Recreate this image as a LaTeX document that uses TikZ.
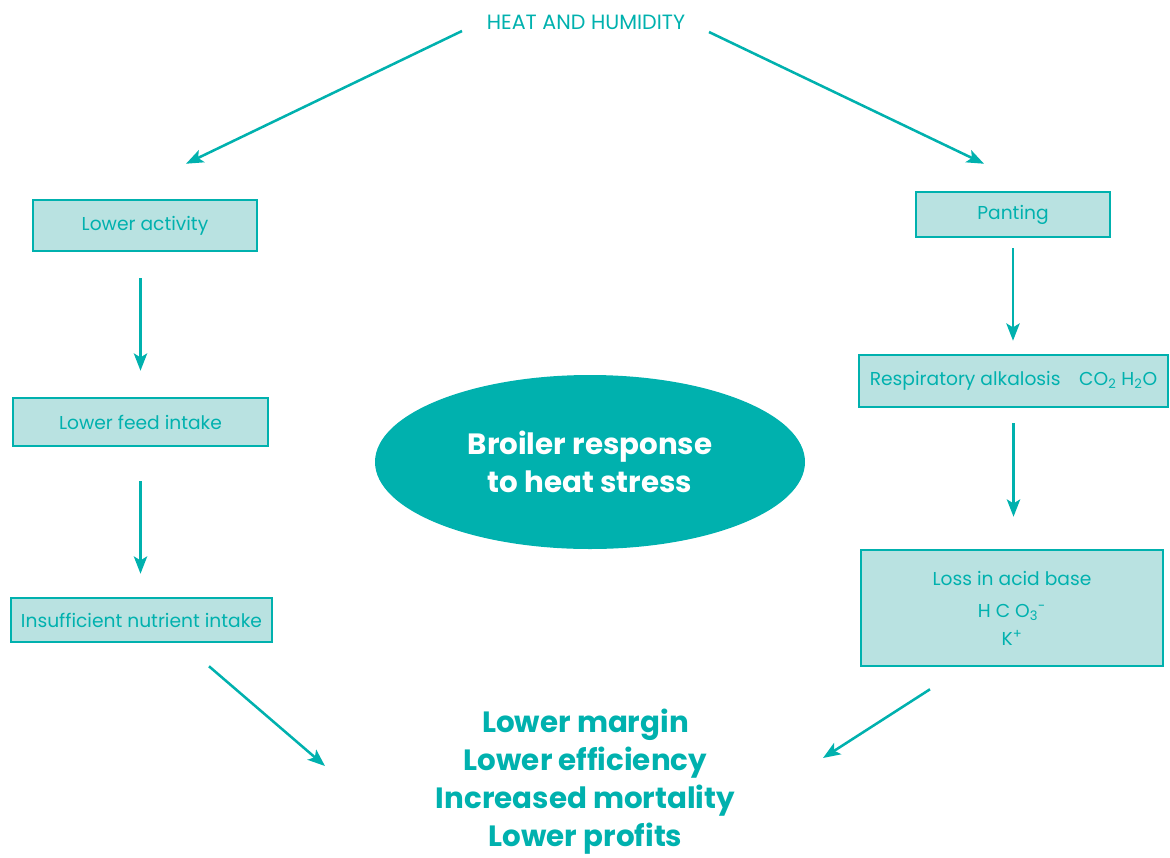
\documentclass[tikz,border=0pt]{standalone}
\usepackage{fontspec}
\setmainfont{Poppins}
\usetikzlibrary{arrows.meta,shapes.geometric,calc}

\definecolor{teal1}{HTML}{00B1AE}
\definecolor{boxfill}{HTML}{B9E2E1}

\tikzset{
  box/.style={draw=teal1,fill=boxfill,line width=1.9pt,inner sep=0pt,align=center,
    text=teal1,font=\fontsize{14}{17}\selectfont},
  flow/.style={draw=teal1,line width=1.9pt,-{Stealth[length=13pt,width=10pt,inset=3pt]}},
  bigtext/.style={font=\fontsize{22}{28.5}\selectfont\bfseries,align=center,inner sep=0pt}
}

\begin{document}
\begin{tikzpicture}[x=0.75pt,y=0.75pt,yscale=-1,xscale=1]
\useasboundingbox (0,0) rectangle (1170,857);

% top label
\node [text=teal1,font=\fontsize{15.5}{18}\selectfont,inner sep=0pt] (heat) at (586,22) {HEAT AND HUMIDITY};

% left column
\node [box,minimum width=168pt,minimum height=38.25pt] (activity) at (145,225.5) {Lower activity};
\node [box,minimum width=191.25pt,minimum height=36pt] (feed) at (140.5,422) {Lower feed intake};
\node [box,minimum width=195.75pt,minimum height=33pt] (nutrient) at (141.5,620) {Insufficient nutrient intake};

% right column
\node [box,minimum width=145.5pt,minimum height=33.75pt] (panting) at (1013,214.5) {Panting};
\node [box,minimum width=231.75pt,minimum height=39pt] (alkalosis) at (1013.5,381) {Respiratory alkalosis\quad CO\textsubscript{2} H\textsubscript{2}O};
\node [box,minimum width=226.5pt,minimum height=87pt] (acidbase) at (1012,608) {Loss in acid base\\[7.5pt] H C O\textsubscript{3}\textsuperscript{-}\\[3.5pt] K\textsuperscript{+}};

% centre
\node [ellipse,fill=teal1,minimum width=322.5pt,minimum height=130.5pt,inner sep=0pt] (broiler) at (590,462) {};
\node [bigtext,text=white] (broilertext) at (broiler) {Broiler response\\to heat stress};

% outcome
\node [bigtext,text=teal1] (losses) at (585.5,782) {Lower margin\\Lower efficiency\\Increased mortality\\Lower profits};

% arrows
\draw [flow] ($(heat.center)+(-124,9)$) -- ($(activity.north)+(41,-35)$);
\draw [flow] ($(heat.center)+(123,10)$) -- ($(panting.north)+(-29,-27)$);
\draw [flow,shorten <=19.5pt,shorten >=19.5pt] (activity.south -| feed.north) -- (feed.north);
\draw [flow,shorten <=25.5pt,shorten >=17.25pt] (feed.south) -- (feed.south |- nutrient.north);
\draw [flow,shorten <=7.5pt,shorten >=9.75pt] (panting.south) -- (panting.south |- alkalosis.north);
\draw [flow,shorten <=11.25pt,shorten >=24pt] (alkalosis.south) -- (alkalosis.south |- acidbase.north);
\draw [flow] ($(nutrient.south)+(67.5,23)$) -- ($(losses.center)+(-260.5,-16)$);
\draw [flow] ($(acidbase.south)+(-82,22)$) -- ($(losses.center)+(237.5,-24)$);

\end{tikzpicture}
\end{document}
